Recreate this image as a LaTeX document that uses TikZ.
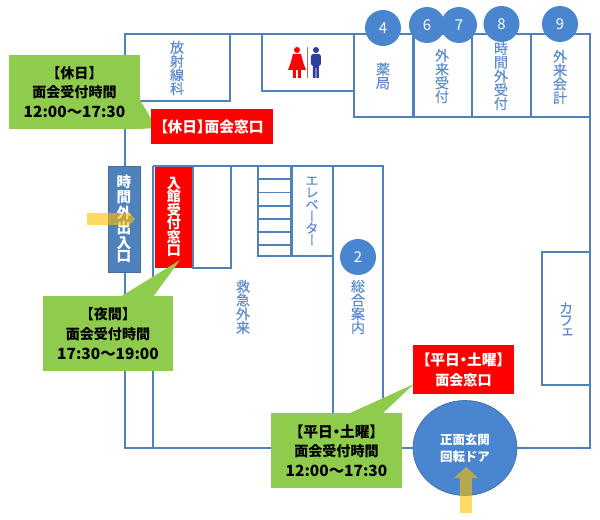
\documentclass[tikz,border=0pt]{standalone}
\usepackage{fontspec}
\usetikzlibrary{shapes.geometric}
\setmainfont{Noto Sans CJK JP}
\newfontfamily\vertfont[RawFeature=+vert, FakeBold=0.25]{Noto Sans CJK JP}
\newfontfamily\labelfont[FakeBold=0.25]{Noto Sans CJK JP}
\newfontfamily\tightfont[RawFeature=+palt]{Noto Sans CJK JP}
\definecolor{wallblue}{HTML}{4F81BD}
\definecolor{dotblue}{HTML}{4A86CF}
\definecolor{labelblue}{HTML}{5B8BCB}
\definecolor{signgreen}{HTML}{8FCB4C}
\definecolor{signred}{HTML}{FF0000}
\definecolor{walkyellow}{HTML}{FFC000}
\definecolor{mannavy}{HTML}{2F3E9E}
\newcommand{\timeline}[1]{{\fontsize{8.8}{11.2}\selectfont #1}}
\newcommand{\tightline}[1]{{\fontsize{8.4}{11.2}\tightfont\bfseries #1}}
\tikzset{
  wall/.style={draw=wallblue, line width=1.2pt},
  roomlabel/.style={text=labelblue, align=center, inner sep=0pt, font=\fontsize{8}{7.85}\labelfont},
  numdot/.style={circle, fill=dotblue, text=white, minimum size=0.72cm, inner sep=0pt, font=\fontsize{8.5}{9}\selectfont},
  greensign/.style={fill=signgreen, text=black, align=center, inner sep=0pt, font=\fontsize{8}{11.2}\selectfont\bfseries},
  redsign/.style={fill=signred, text=white, align=center, inner sep=0pt, font=\fontsize{8}{11.5}\selectfont\bfseries},
  walkway/.style={fill=walkyellow, opacity=0.6}
}
\begin{document}
\begin{tikzpicture}[x=0.02cm, y=-0.02cm]
\useasboundingbox (0,0) rectangle (600,520);

\draw[wall] (125,34) rectangle (590,448);
\draw[wall] (153,166) -- (153,448);
\draw[wall] (125,101) -- (230,101) -- (230,34);
\draw[wall] (262,34) -- (262,91) -- (355,91);
\draw[wall] (354,34) -- (354,117) -- (590,117);
\draw[wall] (413.5,34) -- (413.5,117);
\draw[wall] (472,34) -- (472,117);
\draw[wall] (531,34) -- (531,117);
\fill[signred] (155,167) rectangle (193,268);
\draw[wall] (153,166) -- (383,166) -- (383,413);
\draw[wall] (193,166) -- (193,268) -- (231,268) -- (231,166);
\draw[wall] (258,166) -- (258,256) -- (333,256);
\draw[wall] (291.5,166) -- (291.5,256);
\draw[wall] (333,166) -- (333,413);
\foreach \y in {179,192.5,206,219,232,245}
  \draw[draw=wallblue, line width=0.7pt] (258,\y) -- (291.5,\y);
\draw[wall] (590,252) -- (542,252) -- (542,385) -- (590,385);

\fill[red] (297,50) circle (3);
\fill[red] (293,54) -- (301,54) -- (303,62) -- (306,70) -- (288,70) -- (291,62) -- cycle;
\fill[red] (293,69) rectangle (296,78) (298,69) rectangle (301,78);
\draw[gray, line width=0.5pt] (307,47) -- (307,78);
\fill[mannavy] (316,50) circle (3);
\fill[mannavy, rounded corners=1pt] (311,54) rectangle (321,66);
\fill[mannavy] (313,60) rectangle (319,68);
\fill[mannavy] (313,66) rectangle (315.6,78) (316.4,66) rectangle (319,78);

\node[roomlabel] (radiology) at (177,68) {放\\射\\線\\科};
\node[roomlabel] (pharmacy) at (383,76) {薬\\局};
\node[roomlabel] (outreception) at (442,76) {外\\来\\受\\付};
\node[roomlabel] (afterhours) at (501,76) {時\\間\\外\\受\\付};
\node[roomlabel] (cashier) at (560,77) {外\\来\\会\\計};
\node[roomlabel] (emergency) at (243,307) {救\\急\\外\\来};
\node[roomlabel] (information) at (358,307) {総\\合\\案\\内};
\node[roomlabel, font=\fontsize{8.2}{6.8}\vertfont] (cafe) at (566,320) {カ\\フ\\ェ};
\node[roomlabel, font=\fontsize{7.6}{6.8}\vertfont] (elevator) at (312,211) {エ\\レ\\ベ\\ー\\タ\\ー};

\foreach \n/\x/\y in {4/383/28, 6/427/25, 7/459/25, 8/501.5/24, 9/560/24, 2/358/257}
  \node[numdot] (dot\n) at (\x,\y) {\n};

\node[fill=wallblue, draw=wallblue!85!black, line width=0.4pt, minimum width=0.64cm, minimum height=2.12cm, text=white, align=center, inner sep=0pt, font=\fontsize{8.3}{7.4}\selectfont\bfseries] (nightdoor) at (124,219) {時\\間\\外\\出\\入\\口};
\node[text=white, align=center, inner sep=0pt, font=\fontsize{8}{7.7}\selectfont\bfseries] (entrydesk) at (174,217) {入\\館\\受\\付\\窓\\口};
\fill[walkway] (87,213) -- (128,213) -- (128,211) -- (135,219) -- (128,227) -- (128,225) -- (87,225) -- cycle;

\fill[signgreen] (140,100) -- (157,128) -- (139,129) -- cycle;
\fill[signgreen] (120,297) -- (180,260) -- (153,297) -- cycle;
\fill[signgreen] (348,414) -- (414,384) -- (382,414) -- cycle;

\node[greensign, minimum width=2.62cm, minimum height=1.5cm] (holidaysign) at (74.5,92) {【休日】\\面会受付時間\\\timeline{12:00〜17:30}};
\node[greensign, minimum width=2.6cm, minimum height=1.5cm] (nightsign) at (108,333.5) {【夜間】\\面会受付時間\\\timeline{17:30〜19:00}};
\node[greensign, minimum width=2.62cm, minimum height=1.5cm] (weekdaysign) at (336.5,450.5) {\tightline{【平日・土曜】}\\面会受付時間\\\timeline{12:00〜17:30}};

\node[redsign, minimum width=2.44cm, minimum height=0.7cm] (holidaywindow) at (212,126.5) {\tightline{【休日】面会窓口}};
\node[redsign, minimum width=2.02cm, minimum height=0.98cm] (weekdaywindow) at (463.5,369.5) {\tightline{【平日・土曜】}\\面会窓口};

\node[ellipse, draw=wallblue!85!black, line width=0.4pt, fill=dotblue, text=white, align=center, minimum width=2.08cm, minimum height=1.9cm, inner sep=0pt, font=\fontsize{7.1}{9.7}\selectfont\bfseries] (maindoor) at (465,448) {正面玄関\\回転ドア};
\fill[walkway] (460,513) -- (460,478) -- (454,478) -- (466,467) -- (478,478) -- (472,478) -- (472,513) -- cycle;
\end{tikzpicture}
\end{document}
